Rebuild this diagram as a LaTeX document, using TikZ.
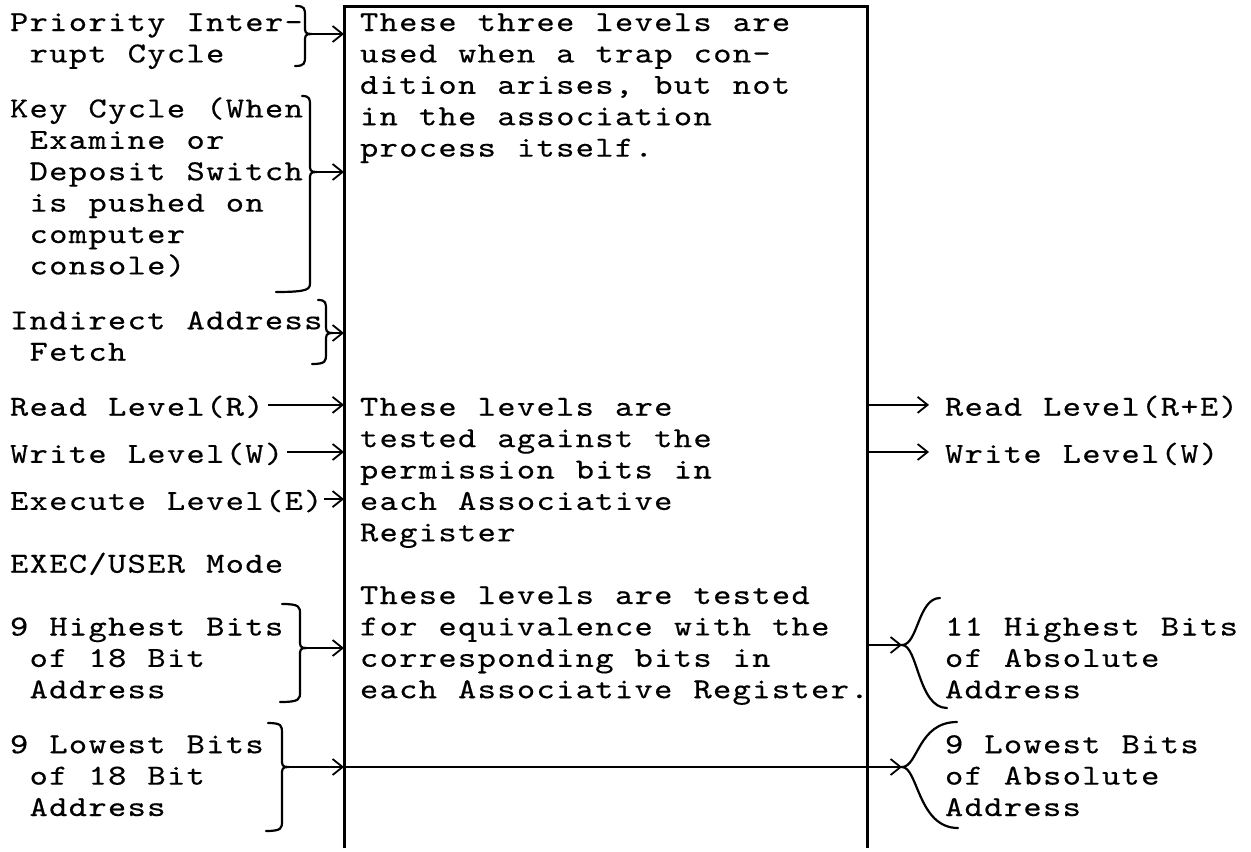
\documentclass[tikz,border=0pt]{standalone}
\usepackage{fontspec}
\newfontfamily\typewriter[FakeStretch=1.2,LetterSpace=4.6,WordSpace=1.073,FakeBold=0.4]{lmmono10-regular.otf}
\usetikzlibrary{arrows.meta}
% one typewriter cell of indentation
\newcommand\indentcell{\hspace*{9.8pt}}
% fixed first-line height, so that a node's top lies 12pt above its first baseline
\newcommand\topstrut{\rule{0pt}{12pt}}
% brace opening to the right: #1 tip name, #2 top end x, #3 stem x, #4 tip x,
% #5 top y, #6 tip y, #7 bottom y, #8 bottom end x
\newcommand\bracetoright[8]{%
  \draw[bracestroke] (#2,#5) .. controls (#3,#5) and (#3,#5+3) .. (#3,#5+10)
     -- (#3,#6-8) .. controls (#3,#6-2) and (#3,#6) .. (#4,#6)
     .. controls (#3,#6) and (#3,#6+2) .. (#3,#6+8)
     -- (#3,#7-10) .. controls (#3,#7-3) and (#3,#7) .. (#8,#7);
  \coordinate (#1) at (#4,#6);}
% brace opening to the left, drawn as two S-curves
\newcommand\bracetoleft[8]{%
  \draw[bracestroke] (#2,#5) .. controls (#3,#5) and (#3,#6) .. (#4,#6)
     .. controls (#3,#6) and (#3,#7) .. (#8,#7);
  \coordinate (#1) at (#4,#6);}
\begin{document}
\begin{tikzpicture}[x=0.5pt,y=-0.5pt,
  tw/.style={font={\typewriter\fontsize{14.5}{15.7}\selectfont}, align=left,
             anchor=north west, inner sep=0pt, outer sep=0pt},
  frame/.style={line width=1.5pt},
  conn/.style={line width=0.9pt,-{Straight Barb[length=5pt,width=8pt]}},
  bracestroke/.style={line width=1.1pt,line cap=round}]
\useasboundingbox (0,0) rectangle (1251,851);

% the open-bottomed register box
\coordinate (bTL) at (344,6);
\coordinate (bTR) at (867,6);
\coordinate (bBL) at (344,848);
\coordinate (bBR) at (867,848);
\draw[frame] (bBL) -- (bTL) -- (bTR) -- (bBR);

% inputs on the left (node tops sit 24 units above the first baseline)
\node[tw] (prio) at (10,7) {\topstrut Priority Inter-\\\indentcell rupt Cycle};
\node[tw] (key) at (10,93.4) {\topstrut Key Cycle (When\\\indentcell Examine or\\\indentcell Deposit Switch\\\indentcell is pushed on\\\indentcell computer\\\indentcell console)};
\node[tw] (ind) at (10,305.3) {\topstrut Indirect Address\\\indentcell Fetch};
\node[tw] (rd) at (10,391.7) {\topstrut Read Level(R)};
\node[tw] (wr) at (10,438.8) {\topstrut Write Level(W)};
\node[tw] (ex) at (10,485.9) {\topstrut Execute Level(E)};
\node[tw] (mode) at (10,548.7) {\topstrut EXEC/USER Mode};
\node[tw] (hi) at (10,611.5) {\topstrut 9 Highest Bits\\\indentcell of 18 Bit\\\indentcell Address};
\node[tw] (lo) at (10,729.2) {\topstrut 9 Lowest Bits\\\indentcell of 18 Bit\\\indentcell Address};

% notes inside the box
\node[tw] (trap) at (360,7) {\topstrut These three levels are\\used when a trap con-\\dition arises, but not\\in the association\\process itself.};
\node[tw] (perm) at (360,391.7) {\topstrut These levels are\\tested against the\\permission bits in\\each Associative\\Register};
\node[tw] (equiv) at (360,580) {\topstrut These levels are tested\\for equivalence with the\\corresponding bits in\\each Associative Register.};

% outputs on the right
\node[tw] (ore) at (945,391.7) {\topstrut Read Level(R+E)};
\node[tw] (ow) at (945,438.8) {\topstrut Write Level(W)};
\node[tw] (ahi) at (945,611.5) {\topstrut 11 Highest Bits\\of Absolute\\Address};
\node[tw] (alo) at (945,729.2) {\topstrut 9 Lowest Bits\\of Absolute\\Address};

% braces
\bracetoright{tP}{296}{305}{311}{6}{34}{66}{295}
\bracetoright{tK}{302}{310}{316}{96}{172}{292}{276}
\bracetoright{tI}{318}{326}{333}{300}{333}{364}{312}
\bracetoright{tH}{282}{300}{306}{604}{648}{702}{280}
\bracetoright{tL}{268}{282}{288}{723}{767}{831}{266}
\bracetoleft{tRH}{940}{918}{902}{598}{645}{708}{947}
\bracetoleft{tRL}{957}{918}{902}{722}{767}{828}{958}

% connectors
\draw[conn] (tP) -- (tP -| bTL);
\draw[conn] (tK) -- (tK -| bTL);
\draw[conn] (tI) -- (tI -| bTL);
\draw[conn] ([xshift=2pt]rd.east) -- (rd.east -| bTL);
\draw[conn] ([xshift=2pt]wr.east) -- (wr.east -| bTL);
\draw[conn] ([xshift=1pt]ex.east) -- (ex.east -| bTL);
\draw[conn] (tH) -- (tH -| bTL);
\draw[conn] (tL) -- (tL -| bTL);
\draw[conn] (tL -| bTL) -- (tRL);
\draw[conn] (tRH -| bTR) -- (tRH);
\draw[conn] (ore.west -| bTR) -- ([xshift=-8pt]ore.west);
\draw[conn] (ow.west -| bTR) -- ([xshift=-8pt]ow.west);
\end{tikzpicture}
\end{document}
